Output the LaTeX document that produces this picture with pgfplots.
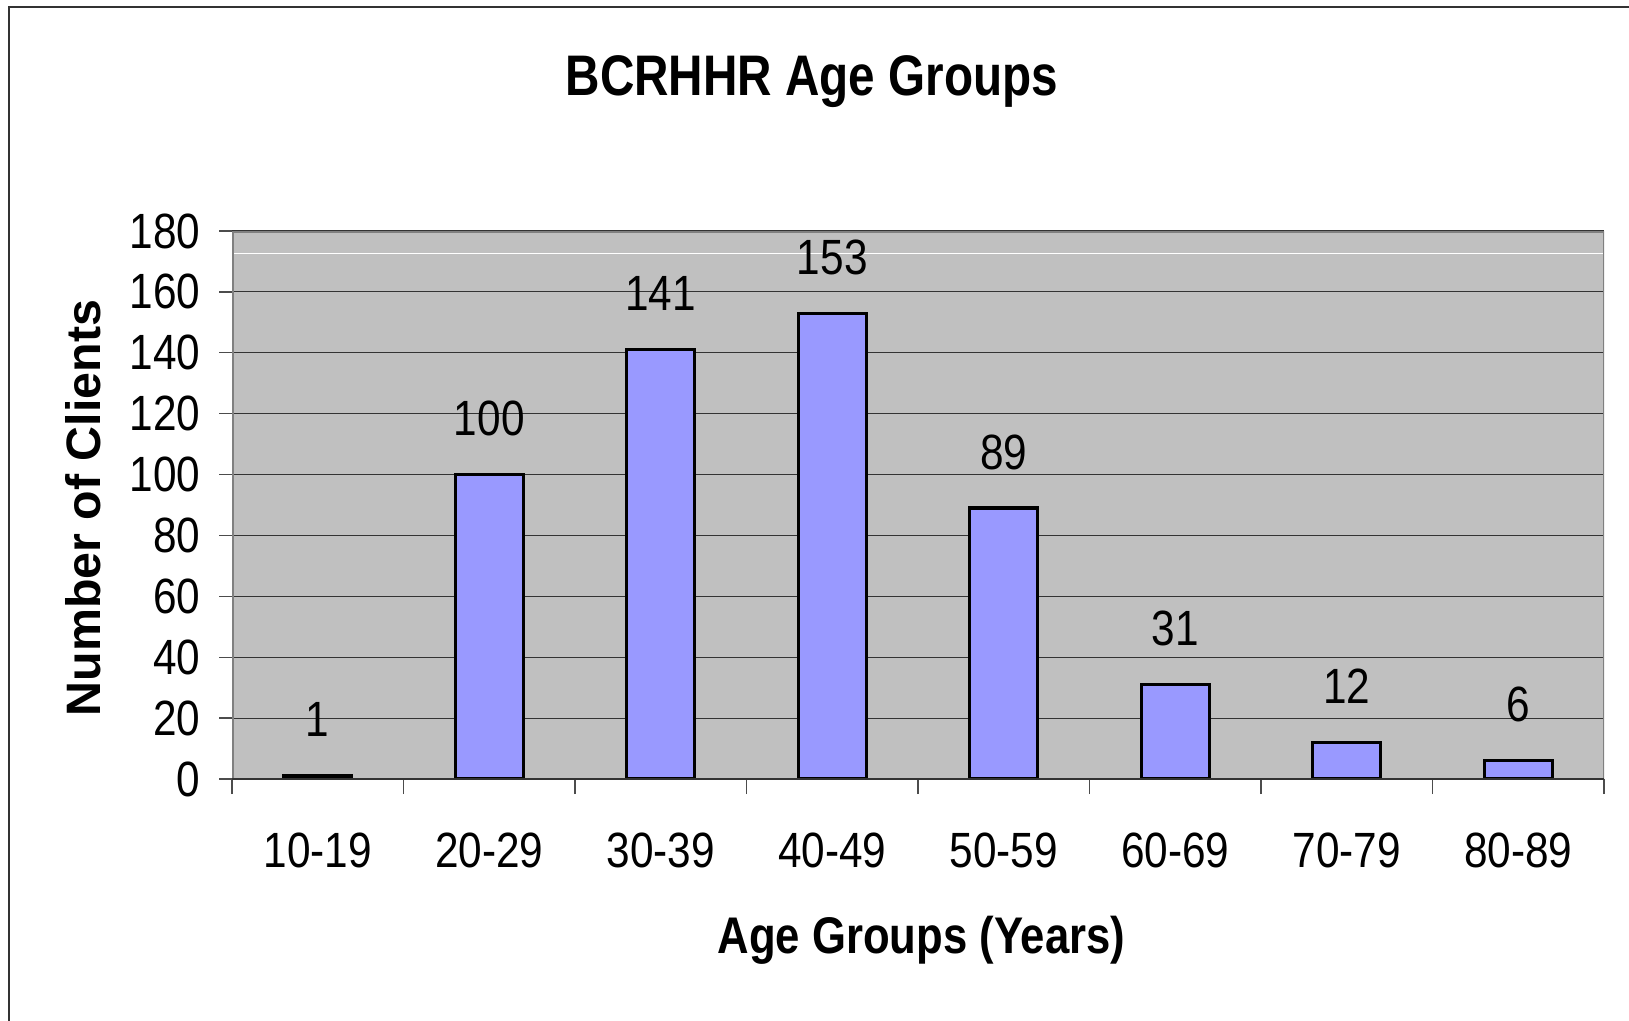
\documentclass[border=0pt]{standalone}
\usepackage{fontspec}
\setmainfont{Liberation Sans}
\usepackage{pgfplots}
\pgfplotsset{compat=1.18}
\definecolor{barfill}{HTML}{9999FF}
\definecolor{plotbg}{HTML}{C0C0C0}
\definecolor{borderc}{HTML}{808080}
\newcommand{\st}[1]{\scalebox{1}[1.17]{#1}}
\begin{document}
\begin{tikzpicture}
\useasboundingbox (0,0) rectangle (488.7pt,306pt);
\draw[black!80, line width=0.6pt] (2.55pt,-2pt) -- (2.55pt,303.75pt) -- (492pt,303.75pt);
\begin{axis}[
  at={(69.6pt,72.3pt)}, anchor=south west,
  scale only axis, width=411.6pt, height=164.4pt,
  xmin=-0.5, xmax=7.5, ymin=0, ymax=180,
  ytick={0,20,...,180},
  xtick={0,...,7},
  xticklabels={\st{10-19},\st{20-29},\st{30-39},\st{40-49},\st{50-59},\st{60-69},\st{70-79},\st{80-89}},
  minor xtick={-0.5,0.5,...,7.5},
  every major x tick/.append style={draw=none},
  tick align=outside, tick pos=left,
  major tick length=3.9pt,
  minor tick length=4.5pt,
  tick style={black!70, line width=0.4pt},
  ymajorgrids, grid style={black!80, line width=0.35pt},
  axis background/.style={fill=plotbg},
  axis line style={draw=none},
  /pgf/number format/assume math mode=true,
  yticklabel={\st{\pgfmathprintnumber{\tick}}},
  yticklabel style={anchor=east, inner sep=0pt, xshift=-5.4pt, font=\fontsize{12.7}{14}\selectfont},
  xticklabel style={anchor=base, inner sep=0pt, yshift=-22.5pt, font=\fontsize{12.7}{14}\selectfont},
  title={\scalebox{1}[1.2]{BCRHHR Age Groups}},
  title style={at={(axis description cs:0.4227,1.2099)}, anchor=base, font=\bfseries\fontsize{14.3}{17}\selectfont},
  xlabel={\scalebox{1}[1.18]{Age Groups (Years)}},
  xlabel style={at={(axis description cs:0.5025,-0.3175)}, anchor=base, font=\bfseries\fontsize{13.1}{15}\selectfont},
  ylabel={Number of Clients},
  ylabel style={at={(axis description cs:-0.0962,0.4945)}, anchor=base, font=\bfseries\fontsize{14.5}{17}\selectfont},
  ybar, bar width=20.4pt,
  nodes near coords={\st{\pgfmathprintnumber{\pgfplotspointmeta}}},
  every node near coord/.append style={anchor=base, yshift=11.7pt, inner sep=0pt, text=black, font=\fontsize{12.7}{14}\selectfont},
]
\addplot[ybar, fill=barfill, draw=black, line width=1.0pt] coordinates {(0,1) (1,100) (2,141) (3,153) (4,89) (5,31) (6,12) (7,6)};
\draw[white, line width=0.35pt] (axis cs:-0.5,172.7) -- (axis cs:7.5,172.7);
\draw[borderc, line width=0.9pt] (rel axis cs:0,0) -- (rel axis cs:0,1) -- (rel axis cs:1,1) -- (rel axis cs:1,0);
\draw[black!80, line width=0.4pt] (rel axis cs:0,0) -- (rel axis cs:1,0);
\end{axis}
\end{tikzpicture}
\end{document}
